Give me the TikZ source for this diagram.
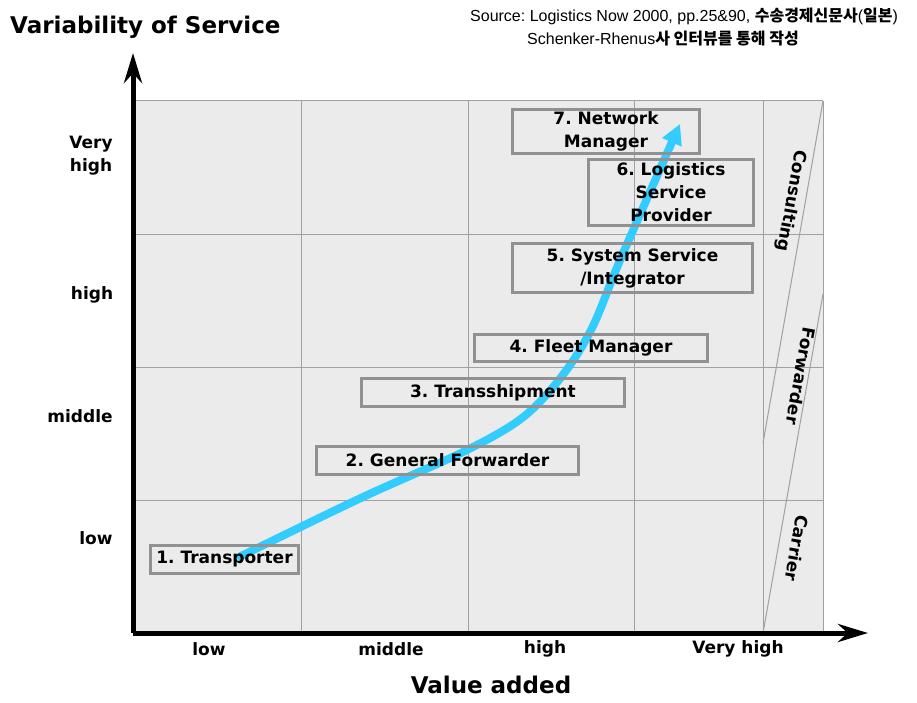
\documentclass[tikz,border=0pt]{standalone}
\usepackage{fontspec}
\setmainfont{DejaVu Sans}
\newfontfamily\srcfont{Liberation Sans}
\newfontfamily\krfont{Noto Sans CJK KR}
\usetikzlibrary{arrows.meta}
\frenchspacing
\begin{document}
\begin{tikzpicture}[x=1pt,y=-1pt,font=\bfseries\fontsize{17}{23}\selectfont,
fond/.style={fill=fondgris,draw=none},
grille/.style={draw=grillegris,line width=1pt},
axe/.style={line width=5pt,-{Stealth[length=30pt,width=18pt]}},
etape/.style={draw=boxgris,line width=3pt,inner sep=0pt,align=center},
flux/.style={draw=bleu,line width=8pt,-{Triangle[length=20pt,width=20pt]}},
marque/.style={inner sep=0pt},
titre/.style={font=\bfseries\fontsize{23}{27}\selectfont,inner sep=0pt},
mode/.style={rotate=-100,inner sep=0pt},
source/.style={font=\srcfont\fontsize{16}{19}\selectfont,anchor=west,inner sep=0pt}]
\definecolor{fondgris}{RGB}{235,235,235}
\definecolor{grillegris}{RGB}{160,160,160}
\definecolor{boxgris}{RGB}{145,145,145}
\definecolor{bleu}{RGB}{51,204,255}
\useasboundingbox (0,0) rectangle (917,703);
% grille
\fill[fond] (133,101) rectangle (823,633);
\foreach \x in {301,468,634,763,823} \draw[grille] (\x,101) -- (\x,633);
\foreach \y in {101,234,367,500} \draw[grille] (133,\y) -- (823,\y);
\draw[grille] (763,633) -- (823,294);
\draw[grille] (763,443) -- (823,101);
% axes
\coordinate (origine) at (133,633);
\coordinate (haut) at (133,53);
\coordinate (droite) at (868,633);
\draw[axe] (origine) -- (haut);
\draw[axe] (origine) -- (droite);
% fleche
\coordinate (debut) at (237,558);
\coordinate (fin) at (680,124);
\draw[flux] plot[smooth,tension=0.55] coordinates {(debut) (363,497) (463,452) (522,418) (562,376) (592,328) (621,258) (fin)};
% etapes
\node[etape,minimum width=148pt,minimum height=28pt] (transporteur) at (224.5,559.5) {1. Transporter};
\node[etape,minimum width=262pt,minimum height=28pt] (transitaire) at (447.5,460.5) {2. General Forwarder};
\node[etape,minimum width=263pt,minimum height=28pt] (transbord) at (493,392.5) {3. Transshipment};
\node[etape,minimum width=233pt,minimum height=27pt] (flotte) at (591,348) {4. Fleet Manager};
\node[etape,minimum width=240pt,minimum height=49pt] (systeme) at (632.5,268) {5. System Service\\/Integrator};
\node[etape,minimum width=165pt,minimum height=66pt] (logistique) at (671,192.5) {6. Logistics\\Service\\Provider};
\node[etape,minimum width=187pt,minimum height=44pt] (reseau) at (606,131.5) {7. Network\\Manager};
% types
\node[mode] (conseil) at (791,201) {Consulting};
\node[mode] (forward) at (801,376) {Forwarder};
\node[mode] (carrier) at (797,548) {Carrier};
% libelles
\node[titre,anchor=west] (titrey) at (10,27) {Variability of Service};
\node[titre] (titrex) at (491,685) {Value added};
\node[marque,align=center] (ytres) at (91,156) {Very\\high};
\node[marque] (yhaut) at (92,295) {high};
\node[marque] (ymoyen) at (80,416) {middle};
\node[marque] (ybas) at (96,538) {low};
\node[marque] (xbas) at (209,649) {low};
\node[marque] (xmoyen) at (391,649) {middle};
\node[marque] (xhaut) at (545,649) {high};
\node[marque] (xtres) at (738,649) {Very high};
% source
\node[source] (src1) at (470,16) {Source: Logistics Now 2000, pp.25\&90, {\krfont\bfseries 수송경제신문사}({\krfont\bfseries 일본})};
\node[source] (src2) at (527,39) {Schenker-Rhenus{\krfont\bfseries 사 인터뷰를 통해 작성}};
\end{tikzpicture}
\end{document}
